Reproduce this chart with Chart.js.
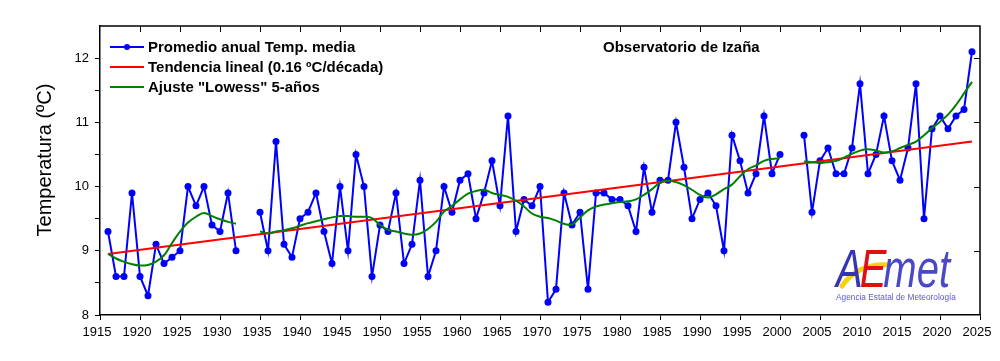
<!DOCTYPE html>
<html><head><meta charset="utf-8">
<script src="https://cdn.jsdelivr.net/npm/chart.js@4.4.1/dist/chart.umd.min.js"></script>
<style>html,body{margin:0;padding:0;background:#fff;}canvas{display:block;}</style>
</head><body>
<canvas id="c" width="1000" height="361"></canvas>
<script>
const years = [1916,1917,1918,1919,1920,1921,1922,1923,1924,1925,1926,1927,1928,1929,1930,1931,1932,1933,1934,1935,
1936,1937,1938,1939,1940,1941,1942,1943,1944,1945,1946,1947,1948,1949,1950,1951,1952,1953,1954,1955,
1956,1957,1958,1959,1960,1961,1962,1963,1964,1965,1966,1967,1968,1969,1970,1971,1972,1973,1974,1975,
1976,1977,1978,1979,1980,1981,1982,1983,1984,1985,1986,1987,1988,1989,1990,1991,1992,1993,1994,1995,
1996,1997,1998,1999,2000,2001,2002,2003,2004,2005,2006,2007,2008,2009,2010,2011,2012,2013,2014,2015,
2016,2017,2018,2019,2020,2021,2022,2023,2024];
const tempMedia = [9.3,8.6,8.6,9.9,8.6,8.3,9.1,8.8,8.9,9.0,10.0,9.7,10.0,9.4,9.3,9.9,9.0,null,null,9.6,
9.0,10.7,9.1,8.9,9.5,9.6,9.9,9.3,8.8,10.0,9.0,10.5,10.0,8.6,9.4,9.3,9.9,8.8,9.1,10.1,
8.6,9.0,10.0,9.6,10.1,10.2,9.5,9.9,10.4,9.7,11.1,9.3,9.8,9.7,10.0,8.2,8.4,9.9,9.4,9.6,
8.4,9.9,9.9,9.8,9.8,9.7,9.3,10.3,9.6,10.1,10.1,11.0,10.3,9.5,9.8,9.9,9.7,9.0,10.8,10.4,
9.9,10.2,11.1,10.2,10.5,null,null,10.8,9.6,10.4,10.6,10.2,10.2,10.6,11.6,10.2,10.5,11.1,10.4,10.1,
10.6,11.6,9.5,10.9,11.1,10.9,11.1,11.2,12.1];
const lowess = [8.95,8.88,8.83,8.79,8.77,8.78,8.83,8.93,9.12,9.30,9.44,9.53,9.59,9.54,9.49,9.45,9.42,null,null,9.30,
9.27,9.30,9.32,9.35,9.39,9.43,9.46,9.49,9.52,9.54,9.54,9.53,9.53,9.51,9.40,9.33,9.30,9.27,9.25,9.27,
9.34,9.45,9.61,9.70,9.80,9.89,9.93,9.95,9.90,9.87,9.84,9.78,9.69,9.58,9.53,9.51,9.47,9.42,9.41,9.52,
9.63,9.69,9.72,9.74,9.76,9.77,9.80,9.87,9.96,10.06,10.09,10.07,10.02,9.95,9.87,9.83,9.88,9.96,10.03,10.16,
10.27,10.33,10.40,10.43,10.44,null,null,10.39,10.38,10.37,10.38,10.40,10.45,10.51,10.56,10.58,10.56,10.53,10.55,10.60,
10.65,10.70,10.80,10.91,11.01,11.12,11.27,11.45,11.63];
const trendYears = [1916, 2024];
const trendValues = [8.95, 10.70];
const xTickValues = [1915,1920,1925,1930,1935,1940,1945,1950,1955,1960,1965,1970,1975,1980,1985,1990,1995,2000,2005,2010,2015,2020,2025];
const yTickValues = [8,8.5,9,9.5,10,10.5,11,11.5,12];
const yLabelValues = [8,9,10,11,12];
const legendLabels = ['Promedio anual Temp. media','Tendencia lineal (0.16 ºC/década)','Ajuste "Lowess" 5-años'];
const yTitle = 'Temperatura (ºC)';
const stationTitle = 'Observatorio de Izaña';

const FAM = '"Liberation Sans", Arial, sans-serif';
const BLUE = '#0000ff', RED = '#ff0000', GREEN = '#008000';

const pts = (xs, ys) => xs.map((v, i) => ({x: v, y: ys[i]}));

const decorPlugin = {
  id: 'decor',
  afterDraw(chart) {
    const {ctx, chartArea: a, scales: {x, y}} = chart;
    ctx.save();
    // frame top/right
    ctx.strokeStyle = '#000'; ctx.lineWidth = 1.5;
    ctx.beginPath();
    ctx.moveTo(a.left, a.top); ctx.lineTo(a.right, a.top); ctx.lineTo(a.right, a.bottom);
    ctx.stroke();
    ctx.lineWidth = 1;
    ctx.beginPath();
    xTickValues.forEach(v => { const px = Math.round(x.getPixelForValue(v)) + 0.5; if (v > 1915 && v < 2025) { ctx.moveTo(px, a.top); ctx.lineTo(px, a.top + 6); } });
    yLabelValues.forEach(v => { const py = Math.round(y.getPixelForValue(v)) + 0.5; if (v > 8) { ctx.moveTo(a.right, py); ctx.lineTo(a.right - 6, py); } });
    ctx.stroke();

    // y title
    ctx.save();
    ctx.translate(45, 160);
    ctx.rotate(-Math.PI / 2);
    ctx.font = '20px ' + FAM; ctx.fillStyle = '#000';
    ctx.textAlign = 'center'; ctx.textBaseline = 'middle';
    ctx.fillText(yTitle, 0, 0);
    ctx.restore();

    // legend
    const cols = [BLUE, RED, GREEN];
    const rows = [47, 67, 87];
    ctx.font = 'bold 15px ' + FAM; ctx.textAlign = 'left'; ctx.textBaseline = 'middle';
    rows.forEach((ry, i) => {
      ctx.strokeStyle = cols[i]; ctx.lineWidth = 2;
      ctx.beginPath(); ctx.moveTo(110, ry); ctx.lineTo(144, ry); ctx.stroke();
      if (i === 0) { ctx.fillStyle = BLUE; ctx.beginPath(); ctx.arc(127, ry, 3, 0, Math.PI * 2); ctx.fill(); }
      ctx.fillStyle = '#000';
      ctx.fillText(legendLabels[i], 148, ry + 1);
    });
    ctx.fillText(stationTitle, 603, 48);

    // logo
    ctx.save();
    ctx.strokeStyle = '#f5d312'; ctx.lineWidth = 5; ctx.lineCap = 'round';
    ctx.beginPath(); ctx.moveTo(842, 286); ctx.quadraticCurveTo(858, 263, 889, 265); ctx.stroke();
    ctx.translate(836, 287);
    ctx.scale(1, 1.35);
    ctx.font = 'italic 40px ' + FAM; ctx.textBaseline = 'alphabetic'; ctx.textAlign = 'left';
    ctx.fillStyle = '#3434b4'; ctx.fillText('A', 0, 0);
    const wA = ctx.measureText('A').width - 3;
    ctx.fillStyle = '#e01010'; ctx.fillText('E', wA, 0);
    const wE = ctx.measureText('E').width - 3;
    ctx.fillStyle = '#4848c8'; ctx.fillText('met', wA + wE, 0);
    ctx.restore();
    ctx.font = '8.3px ' + FAM; ctx.fillStyle = '#5a5ad2'; ctx.textBaseline = 'middle';
    ctx.fillText('Agencia Estatal de Meteorología', 836, 298);
    ctx.restore();
  }
};

new Chart(document.getElementById('c'), {
  type: 'line',
  data: {
    datasets: [
      {label: legendLabels[2], data: pts(years, lowess), borderColor: GREEN, borderWidth: 2, pointRadius: 0, tension: 0.4, spanGaps: false, order: 1},
      {label: legendLabels[1], data: pts(trendYears, trendValues), borderColor: RED, borderWidth: 2, pointRadius: 0, order: 2},
      {label: legendLabels[0], data: pts(years, tempMedia), borderColor: BLUE, backgroundColor: BLUE, borderWidth: 2,
       pointRadius: 3.5, pointBorderWidth: 0, pointBackgroundColor: BLUE, tension: 0, spanGaps: false, order: 3}
    ]
  },
  options: {
    responsive: false, animation: false,
    layout: {padding: {left: 0, right: 20, top: 26, bottom: 0}},
    plugins: {legend: {display: false}, tooltip: {enabled: false}},
    scales: {
      x: {
        type: 'linear', min: 1915, max: 2025,
        afterBuildTicks: s => { s.ticks = xTickValues.map(v => ({value: v})); },
        afterFit: s => { s.height = 46; },
        ticks: {font: {size: 13, family: FAM}, color: '#000', padding: 5, labelOffset: -3, maxRotation: 0, autoSkip: false, callback: v => String(v)},
        grid: {drawOnChartArea: false, drawTicks: true, tickLength: 5, color: '#000', lineWidth: 1},
        border: {display: true, color: '#000', width: 1.5}
      },
      y: {
        min: 8, max: 12.5,
        afterBuildTicks: s => { s.ticks = yTickValues.map(v => ({value: v})); },
        afterFit: s => { s.width = 100; },
        ticks: {font: {size: 13, family: FAM}, color: '#000', padding: 6, callback: v => yLabelValues.includes(v) ? String(v) : ''},
        grid: {drawOnChartArea: false, drawTicks: true, tickLength: 5, color: '#000', lineWidth: 1},
        border: {display: true, color: '#000', width: 1.5}
      }
    }
  },
  plugins: [decorPlugin]
});
</script>
</body></html>
